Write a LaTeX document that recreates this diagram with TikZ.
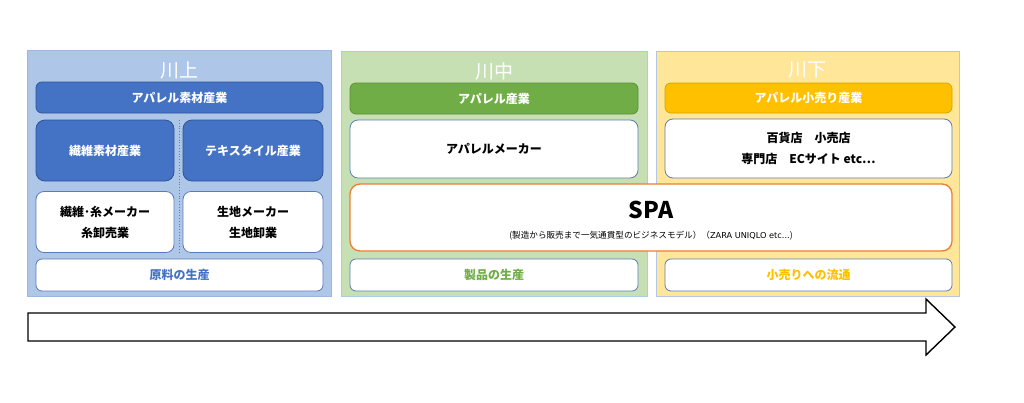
\documentclass[tikz,border=0pt]{standalone}
\usepackage{fontspec}
\setmainfont{Noto Sans CJK JP}
\newfontfamily\latinsub{DejaVu Sans}
\definecolor{bluefill}{HTML}{AEC6E8}
\definecolor{blueedge}{HTML}{9DB8E0}
\definecolor{greenfill}{HTML}{C6E0B4}
\definecolor{greenedge}{HTML}{A9CCE8}
\definecolor{yellowfill}{HTML}{FFE699}
\definecolor{yellowedge}{HTML}{B4C7E7}
\definecolor{hblue}{HTML}{4472C4}
\definecolor{hblueedge}{HTML}{2F5597}
\definecolor{hgreen}{HTML}{70AD47}
\definecolor{hgreenedge}{HTML}{5A8F38}
\definecolor{hyellow}{HTML}{FFC000}
\definecolor{hyellowedge}{HTML}{D9A300}
\definecolor{boxedge}{HTML}{5B7BBA}
\definecolor{spaorange}{HTML}{ED7D31}
\tikzset{
  panel/.style={rectangle, inner sep=0pt, line width=0.8pt},
  ptitle/.style={text=white, font=\fontsize{19}{19}\selectfont},
  hdr/.style={rectangle, rounded corners=6pt, inner sep=0pt, line width=0.8pt, text=white, font=\bfseries\fontsize{12}{14}\selectfont},
  wbox/.style={rectangle, rounded corners=8pt, inner sep=0pt, line width=0.8pt, draw=boxedge, fill=white, align=center, font=\bfseries\fontsize{12}{21}\selectfont},
}
\begin{document}
\begin{tikzpicture}[x=1pt,y=-1pt]
\useasboundingbox (0,0) rectangle (1024,402);
% panels
\node[panel, fill=bluefill, draw=blueedge, minimum width=304pt, minimum height=246pt] (pup) at (179,173) {};
\node[panel, fill=greenfill, draw=greenedge, minimum width=306pt, minimum height=245pt] (pmid) at (494,173.5) {};
\node[panel, fill=yellowfill, draw=yellowedge, minimum width=303pt, minimum height=245pt] (plow) at (807.5,173.5) {};
\node[ptitle] (tup) at (179,70) {川上};
\node[ptitle] (tmid) at (494,71) {川中};
\node[ptitle] (tlow) at (807.5,70) {川下};
% upstream
\node[hdr, fill=hblue, draw=hblueedge, minimum width=287pt, minimum height=31pt] (hup) at (179.5,97.5) {アパレル素材産業};
\draw[boxedge, dotted, line width=0.8pt] (179,120) -- (179,253);
\node[hdr, rounded corners=9pt, fill=hblue, draw=hblueedge, minimum width=138pt, minimum height=61pt] (fiber) at (105,150.5) {繊維素材産業};
\node[hdr, rounded corners=9pt, fill=hblue, draw=hblueedge, minimum width=140pt, minimum height=61pt] (textile) at (253,150.5) {テキスタイル産業};
\node[wbox, minimum width=138pt, minimum height=61pt] (yarn) at (105,222) {繊維･糸メーカー\\糸卸売業};
\node[wbox, minimum width=140pt, minimum height=61pt] (cloth) at (253,222) {生地メーカー\\生地卸業};
\node[wbox, rounded corners=6pt, minimum width=287pt, minimum height=32pt, text=hblue] (raw) at (179.5,275) {原料の生産};
% midstream
\node[hdr, fill=hgreen, draw=hgreenedge, minimum width=288pt, minimum height=31pt] (hmid) at (494,98.5) {アパレル産業};
\node[wbox, minimum width=288pt, minimum height=58pt] (maker) at (494,149) {アパレルメーカー};
\node[wbox, rounded corners=6pt, minimum width=288pt, minimum height=32pt, text=hgreen] (prod) at (494,275) {製品の生産};
% downstream
\node[hdr, fill=hyellow, draw=hyellowedge, minimum width=287pt, minimum height=30pt] (hlow) at (808.5,98) {アパレル小売り産業};
\node[wbox, minimum width=287pt, minimum height=59pt] (retail) at (808.5,148.5) {百貨店\hspace{1em}小売店\\専門店\hspace{1em}ECサイト etc…};
\node[wbox, rounded corners=6pt, minimum width=287pt, minimum height=32pt, text=hyellow] (dist) at (808.5,275) {小売りへの流通};
% SPA
\node[wbox, rounded corners=10pt, draw=spaorange, line width=1.3pt, minimum width=602pt, minimum height=67pt] (spa) at (651,217.5) {};
\node[font=\bfseries\fontsize{23}{23}\selectfont] (spat) at (651,210) {SPA};
\node[font=\fontsize{8.6}{9}\selectfont] (spas) at (651,236) {(製造から販売まで一気通貫型のビジネスモデル）（{\latinsub\fontsize{8.2}{9}\selectfont ZARA UNIQLO etc...})};
% flow arrow
\coordinate (a1) at (28,313);
\coordinate (a2) at (926,313);
\coordinate (a3) at (926,299);
\coordinate (a4) at (955,327);
\coordinate (a5) at (926,355);
\coordinate (a6) at (926,341);
\coordinate (a7) at (28,341);
\draw[black, line width=1.4pt, line join=miter, fill=white] (a1) -- (a2) -- (a3) -- (a4) -- (a5) -- (a6) -- (a7) -- cycle;
\end{tikzpicture}
\end{document}
